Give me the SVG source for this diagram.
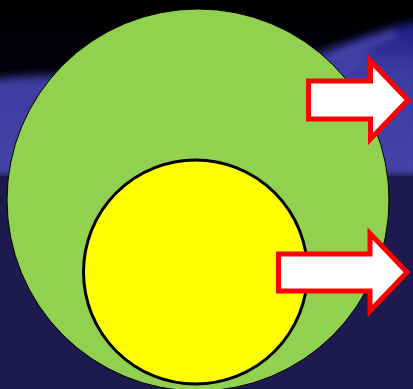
<svg xmlns="http://www.w3.org/2000/svg" width="413" height="389" viewBox="0 0 413 389">
<defs>
<linearGradient id="sky" x1="0" y1="0" x2="0" y2="1">
<stop offset="0" stop-color="#000000"/>
<stop offset="1" stop-color="#05051a"/>
</linearGradient>
<linearGradient id="band" x1="0" y1="0" x2="0" y2="1">
<stop offset="0" stop-color="#1a1a80"/>
<stop offset="0.3" stop-color="#3a3aa0"/>
<stop offset="1" stop-color="#4545aa"/>
</linearGradient>
<filter id="blur" x="-20%" y="-20%" width="140%" height="140%"><feGaussianBlur stdDeviation="4"/></filter>
<style>
.arrow{fill:#ffffff;stroke:#ff0000;stroke-width:5;stroke-linejoin:miter}
</style>
</defs>
<g id="background">
<rect x="0" y="0" width="413" height="389" fill="#1c1a4e"/>
<rect x="0" y="0" width="413" height="176" fill="url(#sky)"/>
<g filter="url(#blur)">
<path d="M-10,80 Q60,70 120,80 L300,60 Q360,35 420,20 L420,176 L-10,176 Z" fill="url(#band)"/>
<path d="M330,60 Q360,45 395,33" stroke="#5a5ac0" stroke-width="5" fill="none" opacity="0.8"/>
<path d="M340,75 Q350,60 365,55" stroke="#5050b8" stroke-width="6" fill="none" opacity="0.7"/>
</g>
<rect x="0" y="176" width="413" height="213" fill="#1c1a4e"/>
</g>
<g id="outer-circle">
<circle cx="198" cy="200" r="191" fill="#92d050" stroke="#000000" stroke-width="1"/>
</g>
<g id="inner-circle">
<circle cx="195.5" cy="272" r="112" fill="#ffff00" stroke="#000000" stroke-width="3"/>
</g>
<g id="connectors">
<path id="arrow-top" class="arrow" d="M308.5,81 H370.5 V61 L408,100 L370.5,139 V119 H308.5 Z"/>
<path id="arrow-bottom" class="arrow" d="M278.5,254 H370 V233.5 L407,272.3 L370,311 V291 H278.5 Z"/>
</g>
</svg>
